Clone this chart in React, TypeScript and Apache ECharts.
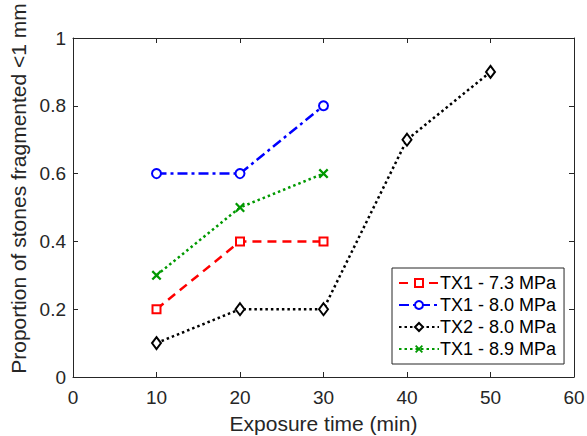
import React, { useEffect, useRef } from "react";
import * as echarts from "echarts";

const seriesNames = ["TX1 - 7.3 MPa", "TX1 - 8.0 MPa", "TX2 - 8.0 MPa", "TX1 - 8.9 MPa"];
const tx1_73: [number, number][] = [[10, 0.2], [20, 0.4], [30, 0.4]];
const tx1_80: [number, number][] = [[10, 0.6], [20, 0.6], [30, 0.8]];
const tx2_80: [number, number][] = [[10, 0.1], [20, 0.2], [30, 0.2], [40, 0.7], [50, 0.9]];
const tx1_89: [number, number][] = [[10, 0.3], [20, 0.5], [30, 0.6]];

const AX = "#262626";
const FONT = "Liberation Sans, Arial, Helvetica, sans-serif";
const XPATH = "path://M0,1.6L1.6,0L5,3.4L8.4,0L10,1.6L6.6,5L10,8.4L8.4,10L5,6.6L1.6,10L0,8.4L3.4,5Z";

export default function App() {
  const ref = useRef<HTMLDivElement>(null);
  useEffect(() => {
    if (!ref.current) return;
    const chart = echarts.init(ref.current, undefined, { renderer: "svg" });
    const axisCommon = {
      axisLine: { show: true, onZero: false, lineStyle: { color: AX, width: 1 } },
      axisTick: { show: true, inside: true, length: 5, lineStyle: { color: AX } },
      splitLine: { show: false },
    };
    chart.setOption({
      animation: false,
      backgroundColor: "#fff",
      textStyle: { fontFamily: FONT },
      grid: { left: 73, right: 13, top: 38, bottom: 59, containLabel: false, outerBoundsMode: "none" },
      xAxis: [
        {
          type: "value", min: 0, max: 60, interval: 10, position: "bottom",
          ...axisCommon,
          axisLabel: { color: AX, fontSize: 19, fontFamily: FONT, margin: 11 },
          name: "Exposure time (min)", nameLocation: "middle", nameGap: 36,
          nameTextStyle: { color: AX, fontSize: 21, fontFamily: FONT },
        },
        {
          type: "value", min: 0, max: 60, interval: 10, position: "top",
          ...axisCommon, axisLabel: { show: false },
        },
      ],
      yAxis: [
        {
          type: "value", min: 0, max: 1, interval: 0.2, position: "left",
          ...axisCommon,
          axisLabel: { color: AX, fontSize: 19, fontFamily: FONT, margin: 7 },
          name: "Proportion of stones fragmented <1 mm", nameLocation: "middle", nameGap: 26,
          nameTextStyle: { color: AX, fontSize: 21, fontFamily: FONT, padding: [0, 0, 0, 38] },
        },
        {
          type: "value", min: 0, max: 1, interval: 0.2, position: "right",
          ...axisCommon, axisLabel: { show: false },
        },
      ],
      legend: {
        left: 392, top: 268, orient: "vertical",
        backgroundColor: "#fff", borderColor: AX, borderWidth: 1,
        padding: [6, 8, 6, 6], itemGap: 4, itemWidth: 40, itemHeight: 10,
        textStyle: { fontSize: 18, fontFamily: FONT, color: "#000", padding: [0, 0, 0, -4] },
        data: seriesNames,
      },
      series: [
        {
          name: seriesNames[0], type: "line", data: tx1_73, symbol: "rect", symbolSize: 8,
          lineStyle: { color: "#ff0000", width: 2.5, type: [9, 6] },
          itemStyle: { color: "#fff", borderColor: "#ff0000", borderWidth: 2 },
        },
        {
          name: seriesNames[1], type: "line", data: tx1_80, symbol: "circle", symbolSize: 9,
          lineStyle: { color: "#0000ff", width: 2.5, type: [10, 4, 3, 4] },
          itemStyle: { color: "#fff", borderColor: "#0000ff", borderWidth: 2 },
        },
        {
          name: seriesNames[2], type: "line", data: tx2_80, symbol: "diamond", symbolSize: [9, 12],
          lineStyle: { color: "#000", width: 2.5, type: [2.5, 3] },
          itemStyle: { color: "#fff", borderColor: "#000", borderWidth: 2 },
        },
        {
          name: seriesNames[3], type: "line", data: tx1_89, symbol: XPATH, symbolSize: 10,
          lineStyle: { color: "#009900", width: 2.5, type: [2.5, 3] },
          itemStyle: { color: "#009900", borderWidth: 0 },
        },
      ],
    });
    return () => chart.dispose();
  }, []);
  return <div ref={ref} style={{ width: 587, height: 436, position: "absolute", left: 0, top: 0 }} />;
}
